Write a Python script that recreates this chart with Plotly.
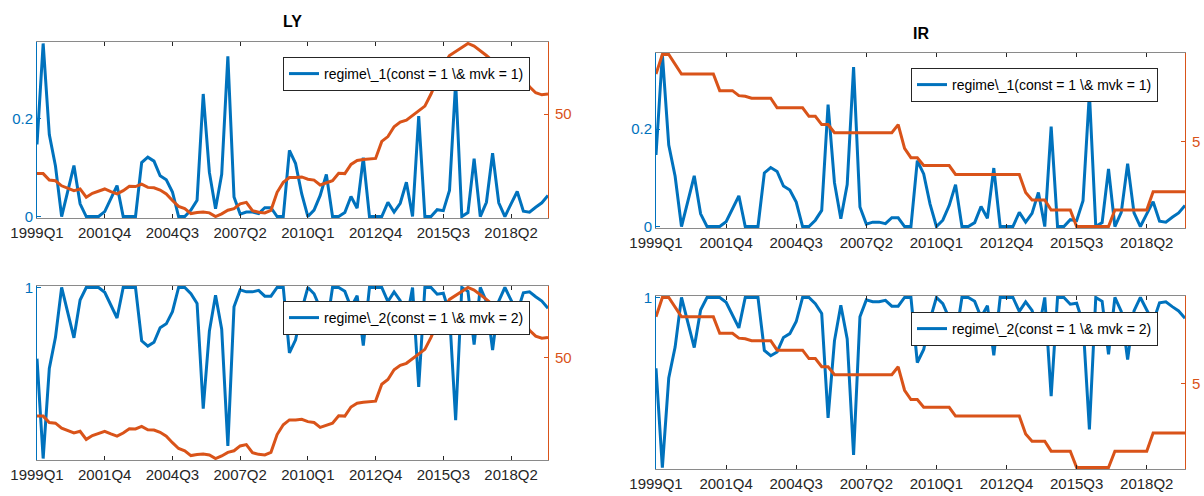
import plotly.graph_objects as go

# Quarterly sample 1999Q1 .. 2019Q4
quarters = [f"{1999 + k // 4}Q{k % 4 + 1}" for k in range(84)]
tick_quarters = quarters[::11]

# Smoothed probability of regime 1
regime_1 = [
    0.147, 0.353, 0.167, 0.103, 0.0, 0.053, 0.104, 0.026, 0.0, 0.0,
    0.0, 0.01, 0.036, 0.063, 0.0, 0.0, 0.0, 0.11, 0.121, 0.113,
    0.083, 0.075, 0.05, 0.0, 0.0, 0.013, 0.033, 0.25, 0.09, 0.016,
    0.086, 0.327, 0.04, 0.005, 0.009, 0.009, 0.006, 0.018, 0.018, 0.0,
    0.0, 0.135, 0.108, 0.046, 0.0, 0.013, 0.043, 0.086, 0.0, 0.0,
    0.008, 0.041, 0.017, 0.12, 0.0, 0.0, 0.0, 0.029, 0.009, 0.027,
    0.07, 0.0, 0.205, 0.0, 0.0, 0.014, 0.012, 0.053, 0.274, 0.0,
    0.008, 0.118, 0.0, 0.029, 0.129, 0.028, 0.0, 0.026, 0.051, 0.011,
    0.009, 0.019, 0.028, 0.043,
]
# The two regime probabilities sum to one
regime_2 = [round(1 - p, 3) for p in regime_1]

# LY series (right axis of the left column)
ly = [
    44.77, 44.77, 44.2, 44.14, 43.7, 43.48, 43.27, 43.42, 42.7, 43.04,
    43.2, 43.42, 43.19, 42.99, 43.27, 43.65, 43.63, 43.85, 43.56, 43.53,
    43.33, 42.99, 42.41, 41.89, 41.69, 41.26, 41.35, 41.4, 41.32, 41.0,
    41.23, 41.55, 41.69, 42.12, 42.24, 41.52, 41.37, 41.32, 41.55, 43.13,
    44.0, 44.43, 44.43, 44.48, 44.28, 44.2, 43.77, 43.94, 44.14, 44.8,
    44.77, 45.58, 45.92, 46.0, 46.07, 46.1, 47.6, 48.02, 48.89, 49.29,
    49.46, 49.9, 50.27, 50.7, 51.76, 53.01, 54.3, 55.14, 55.52, 55.82,
    56.2, 55.97, 55.59, 55.14, 54.68, 54.22, 53.92, 53.69, 53.46, 53.16,
    52.4, 51.87, 51.69, 51.76,
]

# IR series (right axis of the right column)
ir = [
    8.1, 9.0, 9.0, 8.55, 8.1, 8.1, 8.1, 8.1, 8.1, 8.1,
    7.34, 7.34, 7.34, 7.11, 7.08, 6.99, 6.99, 6.99, 6.99, 6.55,
    6.55, 6.55, 6.55, 6.55, 6.16, 6.16, 5.78, 5.78, 5.41, 5.41,
    5.41, 5.41, 5.41, 5.41, 5.41, 5.41, 5.41, 5.41, 5.78, 4.69,
    4.26, 4.26, 3.9, 3.9, 3.9, 3.9, 3.9, 3.49, 3.49, 3.49,
    3.49, 3.49, 3.49, 3.49, 3.49, 3.49, 3.49, 3.49, 2.66, 2.32,
    2.32, 2.32, 1.86, 1.86, 1.86, 1.86, 1.1, 1.1, 1.1, 1.1,
    1.1, 1.1, 1.86, 1.86, 1.86, 1.86, 1.86, 1.86, 2.7, 2.7,
    2.7, 2.7, 2.7, 2.7,
]

legend_1 = "regime\\_1(const = 1 \\& mvk = 1)"
legend_2 = "regime\\_2(const = 1 \\& mvk = 2)"

BLUE = "#0072BD"
ORANGE = "#D95319"
DARK = "#262626"
W, H = 1204, 496


def px_x(a, b):
    return [a / W, b / W]


def px_y(top, bottom):
    return [1 - bottom / H, 1 - top / H]


def padded(lo, hi, span_px, pad_px=1.5):
    d = (hi - lo) * pad_px / span_px
    return [lo - d, hi + d]


panels = [
    dict(xd=px_x(37, 548), yd=px_y(42, 218), prob=regime_1, prange=[0, 0.353], ptick=[0, 0.2],
         lvl=ly, lrange=[41.0, 56.2], ltick=[50], name=legend_1,
         leg=dict(x=283, y=57)),
    dict(xd=px_x(37, 548), yd=px_y(286, 460), prob=regime_2, prange=[0.647, 1.0], ptick=[1],
         lvl=ly, lrange=[41.0, 56.2], ltick=[50], name=legend_2,
         leg=dict(x=283, y=301)),
    dict(xd=px_x(656, 1185), yd=px_y(53, 228), prob=regime_1, prange=[0, 0.353], ptick=[0, 0.2],
         lvl=ir, lrange=[1.1, 9.0], ltick=[5], name=legend_1,
         leg=dict(x=911, y=68)),
    dict(xd=px_x(656, 1185), yd=px_y(296, 469), prob=regime_2, prange=[0.647, 1.0], ptick=[1],
         lvl=ir, lrange=[1.1, 9.0], ltick=[5], name=legend_2,
         leg=dict(x=911, y=312)),
]

fig = go.Figure()
layout = dict(
    width=W, height=H,
    margin=dict(l=0, r=0, t=0, b=0, pad=0, autoexpand=False),
    paper_bgcolor="white", plot_bgcolor="white",
    font=dict(family="Liberation Sans, Arial, sans-serif", size=15, color=DARK),
    annotations=[],
)

for k, p in enumerate(panels, start=1):
    xa = "x" if k == 1 else f"x{k}"
    yl_n, yr_n = 2 * k - 1, 2 * k
    yl = "y" if yl_n == 1 else f"y{yl_n}"
    yr = f"y{yr_n}"
    leg_name = "legend" if k == 1 else f"legend{k}"
    span = (p["yd"][1] - p["yd"][0]) * H

    fig.add_trace(go.Scatter(
        x=quarters, y=p["prob"], xaxis=xa, yaxis=yl, mode="lines",
        line=dict(color=BLUE, width=3), name=p["name"], legend=leg_name,
        showlegend=True,
    ))
    fig.add_trace(go.Scatter(
        x=quarters, y=p["lvl"], xaxis=xa, yaxis=yr, mode="lines",
        line=dict(color=ORANGE, width=3), showlegend=False,
    ))

    layout["xaxis" if k == 1 else f"xaxis{k}"] = dict(
        domain=p["xd"], anchor=yl, type="category", automargin=False,
        range=[0, len(quarters) - 1],
        tickmode="array", tickvals=tick_quarters, ticktext=tick_quarters,
        ticks="inside", ticklen=4, tickwidth=1, tickcolor=DARK,
        showline=True, linecolor="#8a8a8a", linewidth=1, mirror="ticks",
        showgrid=False, zeroline=False,
        tickfont=dict(size=15, color=DARK), ticklabelstandoff=1,
    )
    layout["yaxis" if yl_n == 1 else f"yaxis{yl_n}"] = dict(
        domain=p["yd"], anchor=xa, side="left", automargin=False,
        range=padded(*p["prange"], span),
        tickmode="array", tickvals=p["ptick"],
        ticks="inside", ticklen=4, tickwidth=1, tickcolor=BLUE,
        showline=True, linecolor=BLUE, linewidth=1,
        showgrid=False, zeroline=False,
        tickfont=dict(size=15, color=BLUE),
    )
    layout[f"yaxis{yr_n}"] = dict(
        overlaying=yl, anchor=xa, side="right", automargin=False,
        range=padded(*p["lrange"], span),
        tickmode="array", tickvals=p["ltick"],
        ticks="inside", ticklen=4, tickwidth=1, tickcolor=ORANGE,
        showline=True, linecolor=ORANGE, linewidth=1,
        showgrid=False, zeroline=False,
        tickfont=dict(size=15, color=ORANGE), ticklabelstandoff=3,
    )
    layout[leg_name] = dict(
        x=p["leg"]["x"] / W, y=1 - p["leg"]["y"] / H,
        xanchor="left", yanchor="top",
        bgcolor="white", bordercolor=DARK, borderwidth=1,
        font=dict(size=14, color="black"), itemwidth=30,
    )

for text, xc, yc in [("LY", 292.5, 22), ("IR", 920.5, 33)]:
    layout["annotations"].append(dict(
        text=f"<b>{text}</b>", x=xc / W, y=1 - yc / H, xref="paper", yref="paper",
        xanchor="center", yanchor="middle", showarrow=False,
        font=dict(size=16, color="black"),
    ))

fig.update_layout(**layout)
fig.write_html("out.html")
